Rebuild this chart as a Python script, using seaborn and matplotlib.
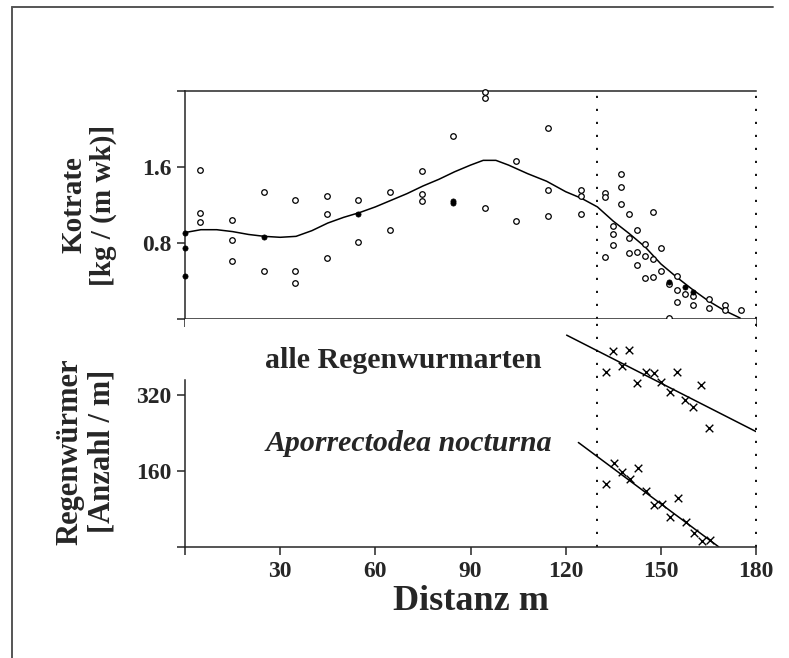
import numpy as np
import pandas as pd
import matplotlib.pyplot as plt
import matplotlib.lines as mlines
import seaborn as sns

# --- Kotrate (upper panel) ---
open_x = [4.7, 4.7, 4.7, 14.7, 14.7, 14.7, 24.9, 24.9, 34.8, 34.8, 34.8,
          44.7, 44.7, 44.7, 54.6, 54.6, 64.7, 64.7, 74.6, 74.6, 74.6,
          84.5, 94.5, 94.5, 94.5, 104.4, 104.4, 114.3, 114.3, 114.3,
          124.8, 124.8, 124.8, 132.4, 132.4, 132.4, 134.9, 134.9, 134.9,
          137.4, 137.4, 137.4, 140.0, 140.0, 140.0, 142.6, 142.6, 142.6,
          145.0, 145.0, 145.0, 147.5, 147.5, 147.5, 150.0, 150.0,
          152.5, 152.5, 155.1, 155.1, 155.1, 157.7, 160.2, 160.2,
          165.2, 165.2, 170.3, 170.3, 175.4]
open_y = [1.57, 1.12, 1.02, 1.04, 0.83, 0.61, 1.34, 0.50, 1.25, 0.51, 0.38,
          1.30, 1.10, 0.64, 1.25, 0.81, 1.34, 0.94, 1.56, 1.32, 1.24,
          1.93, 2.39, 2.33, 1.17, 1.66, 1.03, 2.01, 1.36, 1.08,
          1.36, 1.30, 1.10, 1.33, 1.28, 0.65, 0.98, 0.89, 0.78,
          1.53, 1.39, 1.21, 1.10, 0.85, 0.69, 0.94, 0.70, 0.57,
          0.79, 0.66, 0.43, 1.13, 0.63, 0.44, 0.75, 0.51,
          0.37, 0.01, 0.45, 0.30, 0.18, 0.26, 0.24, 0.15,
          0.21, 0.12, 0.15, 0.09, 0.09]
filled_x = [0, 0, 0, 24.9, 54.6, 84.5, 84.5, 152.5, 157.7, 160.2]
filled_y = [0.91, 0.75, 0.45, 0.86, 1.11, 1.22, 1.24, 0.39, 0.34, 0.28]

curve_x = [0, 5, 10, 15, 20, 25, 30, 35, 40, 45, 50, 55, 60, 65, 70, 75, 80,
           85, 90, 94, 98, 102, 108, 114, 120, 125, 130, 135, 140, 145, 150,
           155, 160, 165, 170, 175]
curve_y = [0.91, 0.94, 0.94, 0.92, 0.89, 0.87, 0.86, 0.87, 0.93, 1.01, 1.07,
           1.12, 1.18, 1.25, 1.32, 1.40, 1.47, 1.55, 1.62, 1.67, 1.67, 1.62,
           1.53, 1.45, 1.34, 1.27, 1.18, 1.03, 0.90, 0.76, 0.58, 0.44, 0.31,
           0.19, 0.09, 0.01]

# --- Regenwuermer (lower panel) ---
alle_x = [135.0, 140.1, 132.6, 137.6, 145.2, 147.7, 142.6, 150.2, 155.2,
          152.8, 157.7, 160.1, 162.7, 165.3]
alle_y = [413, 415, 369, 382, 368, 366, 345, 348, 369, 326, 309, 294, 340, 251]
alle_fit_x = [120.3, 180.0]
alle_fit_y = [446, 243]

noct_x = [135.3, 137.9, 142.9, 132.8, 140.3, 145.2, 147.9, 150.5, 155.5,
          153.0, 158.0, 160.4, 163.0, 165.6]
noct_y = [177, 158, 166, 133, 143, 118, 88, 91, 104, 63, 53, 29, 13, 15]
noct_fit_x = [124.0, 168.3]
noct_fit_y = [220, 0]

x_ticks = [0, 30, 60, 90, 120, 150, 180]
x_ticklabels = ['', '30', '60', '90', '120', '150', '180']
top_ticks = [0, 0.8, 1.6, 2.4]
top_ticklabels = ['', '0.8', '1.6', '']
bot_ticks = [0, 160, 320]
bot_ticklabels = ['', '160', '320']
grenzen = [130, 180]

sns.set_style("ticks")
plt.rcParams['font.family'] = ['Liberation Serif', 'DejaVu Serif']
plt.rcParams['font.weight'] = 'bold'
plt.rcParams['axes.labelweight'] = 'bold'
plt.rcParams['axes.linewidth'] = 1.1
plt.rcParams['xtick.major.width'] = 1.1
plt.rcParams['ytick.major.width'] = 1.1
plt.rcParams['xtick.major.size'] = 6
plt.rcParams['ytick.major.size'] = 6

fig = plt.figure(figsize=(7.89, 6.58), dpi=100)
ax1 = fig.add_axes([0.2345, 0.5152, 0.7237, 0.3465])
ax2 = fig.add_axes([0.2345, 0.1687, 0.7237, 0.3465])

# upper panel
sns.lineplot(x=curve_x, y=curve_y, color='black', lw=1.1, sort=False,
             estimator=None, ax=ax1)
sns.scatterplot(x=open_x, y=open_y, marker='o', s=16, facecolor='white',
                edgecolor='black', linewidth=0.9, ax=ax1, clip_on=False, zorder=3)
sns.scatterplot(x=filled_x, y=filled_y, marker='o', s=14, color='black',
                edgecolor='black', linewidth=0.5, ax=ax1, clip_on=False, zorder=3)
ax1.set_xlim(0, 180)
ax1.set_ylim(0, 2.4)
ax1.set_yticks(top_ticks)
ax1.set_yticklabels(top_ticklabels)
ax1.set_xticks([0, 180])
ax1.set_xticklabels(['', ''])
ax1.spines['right'].set_visible(False)
ax1.set_ylabel("Kotrate\n[kg / (m wk)]", fontsize=21, linespacing=1.1)
ax1.yaxis.set_label_coords(-0.12, 0.5)

# lower panel
sns.lineplot(x=alle_fit_x, y=alle_fit_y, color='black', lw=1.1, ax=ax2)
sns.lineplot(x=noct_fit_x, y=noct_fit_y, color='black', lw=1.1, ax=ax2)
sns.scatterplot(x=alle_x, y=alle_y, marker='x', s=30, color='black',
                linewidth=1.0, ax=ax2)
sns.scatterplot(x=noct_x, y=noct_y, marker='x', s=30, color='black',
                linewidth=1.0, ax=ax2)
ax2.set_xlim(0, 180)
ax2.set_ylim(0, 480)
ax2.set_xticks(x_ticks)
ax2.set_xticklabels(x_ticklabels)
ax2.set_yticks(bot_ticks)
ax2.set_yticklabels(bot_ticklabels)
for s in ['top', 'right']:
    ax2.spines[s].set_visible(False)
ax2.spines['left'].set_bounds(0, 352)
ax2.set_ylabel("Regenwürmer\n[Anzahl / m]", fontsize=22, linespacing=1.12)
ax2.yaxis.set_label_coords(-0.12, 0.42)
ax2.set_xlabel("Distanz m", fontsize=26, labelpad=2)
ax2.text(25.1, 377, "alle Regenwurmarten", fontsize=21.5, fontweight='bold',
         ha='left', va='baseline')
ax2.text(25.3, 202, "Aporrectodea nocturna", fontsize=21.5, fontweight='bold',
         style='italic', ha='left', va='baseline')

for ax in (ax1, ax2):
    ax.tick_params(axis='both', labelsize=17, direction='out', pad=4)
    for g in grenzen:
        ax.axvline(g, color='black', lw=1.3, linestyle=(0, (1.2, 6)),
                   clip_on=False, zorder=1)

# scan frame
fig.add_artist(mlines.Line2D([12 / 789, 773 / 789], [1 - 7 / 658, 1 - 7 / 658],
                             color='#555555', lw=1.4))
fig.add_artist(mlines.Line2D([12 / 789, 12 / 789], [1 - 7 / 658, 0],
                             color='#555555', lw=1.4))

plt.savefig("out.png", dpi=100)
plt.close()
